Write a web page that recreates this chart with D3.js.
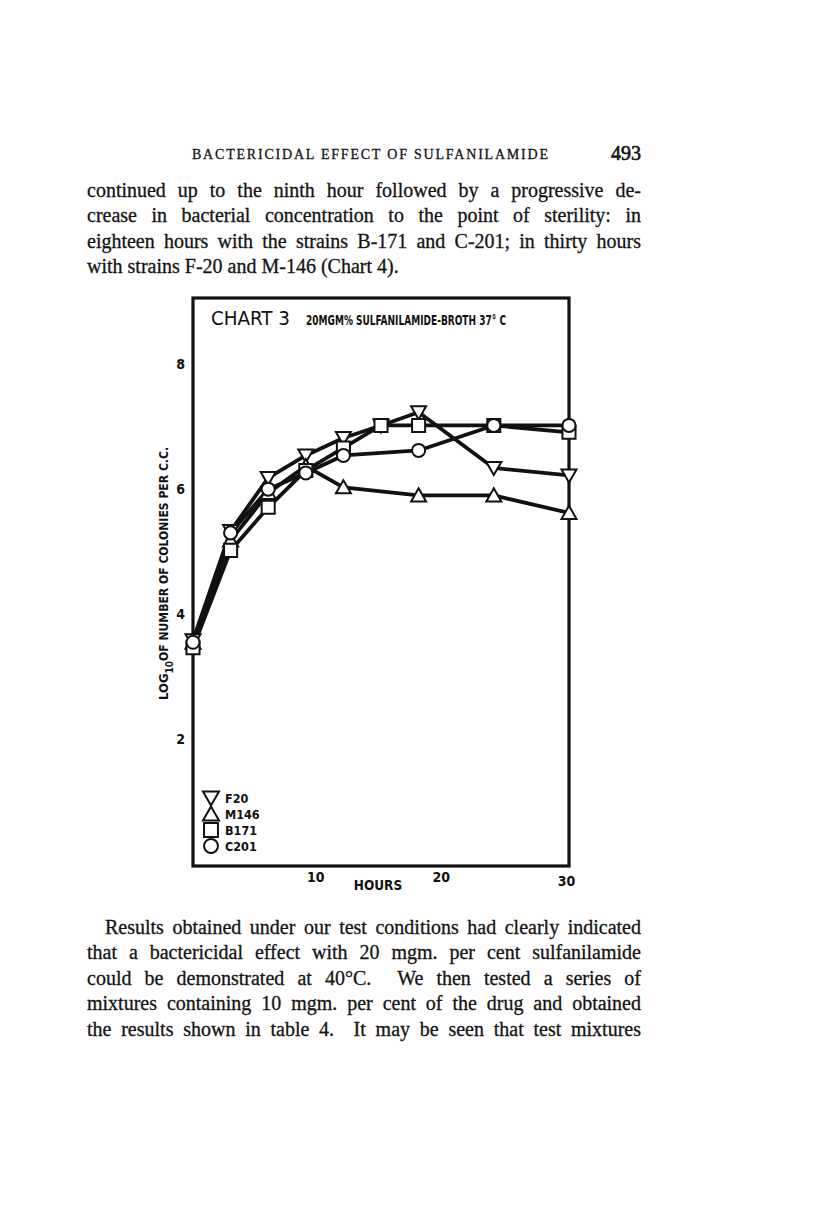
<!DOCTYPE html>
<html>
<head>
<meta charset="utf-8">
<script src="https://cdn.jsdelivr.net/npm/d3@7"></script>
<style>
  body { margin: 0; background: #fff; }
  svg { display: block; }
  .body-text { font-family: 'Liberation Serif', 'Times New Roman', serif; font-size: 20px; fill: #141414; stroke: #141414; stroke-width: 0.3px; }
  .chart-text { font-family: 'DejaVu Sans Condensed', 'DejaVu Sans', sans-serif; font-weight: bold; fill: #111; }
</style>
</head>
<body>
<svg width="816" height="1231"></svg>
<script>
  // data (log10 colonies per c.c.)
  const hours = [0, 3, 6, 9, 12, 15, 18, 24, 30];
  const f20 = [3.58, 5.33, 6.18, 6.54, 6.82, 7.02, 7.23, 6.34, 6.22];
  const m146 = [3.54, 5.18, 5.94, 6.37, 6.03, null, 5.9, 5.9, 5.62];
  const b171 = [3.46, 5.02, 5.71, 6.3, 6.66, 7.02, 7.02, 7.02, 6.91];
  const c201 = [3.55, 5.3, 6.0, 6.26, 6.54, null, 6.62, 7.02, 7.02];

  const strainNames = ['F20', 'M146', 'B171', 'C201'];
  const strainShapes = ['down', 'up', 'square', 'circle'];
  const xTicks = [10, 20, 30];
  const yTicks = [2, 4, 6, 8];

  const topLines = [
    'continued up to the ninth hour followed by a progressive de-',
    'crease in bacterial concentration to the point of sterility: in',
    'eighteen hours with the strains B-171 and C-201; in thirty hours',
    'with strains F-20 and M-146 (Chart 4).'
  ];
  const bottomLines = [
    'Results obtained under our test conditions had clearly indicated',
    'that a bactericidal effect with 20 mgm. per cent sulfanilamide',
    'could be demonstrated at 40\u00B0C.  We then tested a series of',
    'mixtures containing 10 mgm. per cent of the drug and obtained',
    'the results shown in table 4.  It may be seen that test mixtures'
  ];

  const svg = d3.select('svg');

  // ---- page text ----
  svg.append('text')
      .attr('class', 'body-text')
      .attr('x', 192).attr('y', 159)
      .style('font-size', '14px')
      .attr('textLength', 356)
      .attr('lengthAdjust', 'spacing')
      .text('BACTERICIDAL EFFECT OF SULFANILAMIDE');

  svg.append('text')
      .attr('class', 'body-text')
      .attr('x', 641).attr('y', 160)
      .attr('text-anchor', 'end')
      .style('font-size', '20px')
      .style('stroke-width', '0.6px')
      .text('493');

  const justify = (lines, x0, x1, y0, step, indent, lastRagged) => {
    lines.forEach((line, i) => {
      const left = x0 + (i === 0 ? indent : 0);
      const t = svg.append('text')
          .attr('class', 'body-text')
          .attr('x', left)
          .attr('y', y0 + i * step)
          .style('white-space', 'pre')
          .text(line);
      if (lastRagged && i === lines.length - 1) return;
      const w = t.node().getComputedTextLength();
      const spaces = (line.match(/ /g) || []).length;
      if (spaces > 0) t.style('word-spacing', ((x1 - left - w) / spaces) + 'px');
    });
  };

  justify(topLines, 87, 641, 197, 25.4, 0, true);
  justify(bottomLines, 87, 641, 934, 25.4, 18, false);

  // ---- chart ----
  const x = d3.scaleLinear().domain([0, 30]).range([193, 569]);
  const y = d3.scaleLinear().domain([0, 9.06]).range([864, 298]);

  // frame
  svg.append('rect')
      .attr('x', 193).attr('y', 298)
      .attr('width', 376).attr('height', 568)
      .attr('fill', 'none')
      .attr('stroke', '#111')
      .attr('stroke-width', 3.2);

  svg.append('text')
      .attr('class', 'chart-text')
      .attr('x', 211).attr('y', 325)
      .style('font-size', '19px')
      .style('font-weight', 'normal')
      .attr('textLength', 79)
      .attr('lengthAdjust', 'spacingAndGlyphs')
      .text('CHART 3');

  svg.append('text')
      .attr('class', 'chart-text')
      .attr('x', 306).attr('y', 325)
      .style('font-size', '14.5px')
      .attr('textLength', 200)
      .attr('lengthAdjust', 'spacingAndGlyphs')
      .text('20MGM% SULFANILAMIDE-BROTH 37\u00B0 C');

  // axes
  const xAxisG = svg.append('g')
      .attr('transform', 'translate(-3,868)')
      .call(d3.axisBottom(x).tickValues(xTicks).tickSize(0).tickPadding(3));
  xAxisG.select('.domain').remove();
  xAxisG.selectAll('text')
      .attr('class', 'chart-text')
      .style('font-size', '14px')
      .attr('dy', (d, i) => i === 2 ? '1.05em' : '0.75em');

  const yAxisG = svg.append('g')
      .attr('transform', 'translate(193,0)')
      .call(d3.axisLeft(y).tickValues(yTicks).tickSize(0).tickPadding(8));
  yAxisG.select('.domain').remove();
  yAxisG.selectAll('text')
      .attr('class', 'chart-text')
      .style('font-size', '14px');

  svg.append('text')
      .attr('class', 'chart-text')
      .attr('x', 378).attr('y', 890)
      .attr('text-anchor', 'middle')
      .style('font-size', '13.5px')
      .text('HOURS');

  const yLabel = svg.append('text')
      .attr('class', 'chart-text')
      .attr('transform', 'translate(168,700) rotate(-90)')
      .style('font-size', '13px');
  yLabel.append('tspan').text('LOG');
  yLabel.append('tspan').attr('dy', 5).style('font-size', '10px').text('10');
  yLabel.append('tspan').attr('dy', -5).attr('textLength', 214).attr('lengthAdjust', 'spacingAndGlyphs')
      .text('OF NUMBER OF COLONIES PER C.C.');

  // series
  const series = [f20, m146, b171, c201].map((vals, i) => ({
    name: strainNames[i],
    shape: strainShapes[i],
    points: hours.map((h, j) => ({ h, v: vals[j] })).filter(p => p.v !== null)
  }));

  const line = d3.line().x(p => x(p.h)).y(p => y(p.v));

  svg.append('g').selectAll('path')
    .data(series)
    .enter().append('path')
      .attr('d', s => line(s.points))
      .attr('fill', 'none')
      .attr('stroke', '#111')
      .attr('stroke-width', 3.8)
      .attr('stroke-linejoin', 'round');

  const shapePath = (shape, size) => {
    const h = size / 2;
    if (shape === 'down') return `M${-h},${-h * 0.8}L${h},${-h * 0.8}L0,${h * 0.95}Z`;
    if (shape === 'up') return `M${-h},${h * 0.8}L${h},${h * 0.8}L0,${-h * 0.95}Z`;
    if (shape === 'square') return `M${-h * 0.87},${-h * 0.87}H${h * 0.87}V${h * 0.87}H${-h * 0.87}Z`;
    return d3.arc()({ innerRadius: 0, outerRadius: h * 0.87, startAngle: 0, endAngle: 2 * Math.PI });
  };

  series.forEach(s => {
    svg.append('g').selectAll('path')
      .data(s.points)
      .enter().append('path')
        .attr('transform', p => `translate(${x(p.h)},${y(p.v)})`)
        .attr('d', shapePath(s.shape, 15))
        .attr('fill', '#fff')
        .attr('stroke', '#111')
        .attr('stroke-width', 2);
  });

  // legend
  const legend = svg.append('g').attr('transform', 'translate(211,798)');
  series.forEach((s, i) => {
    const row = legend.append('g').attr('transform', `translate(0,${[0, 16, 32, 48][i]})`);
    row.append('path')
        .attr('d', shapePath(s.shape, 16))
        .attr('fill', '#fff')
        .attr('stroke', '#111')
        .attr('stroke-width', 2);
    row.append('text')
        .attr('class', 'chart-text')
        .attr('x', 14).attr('y', 5)
        .style('font-size', '12.5px')
        .text(s.name);
  });
</script>
</body>
</html>
